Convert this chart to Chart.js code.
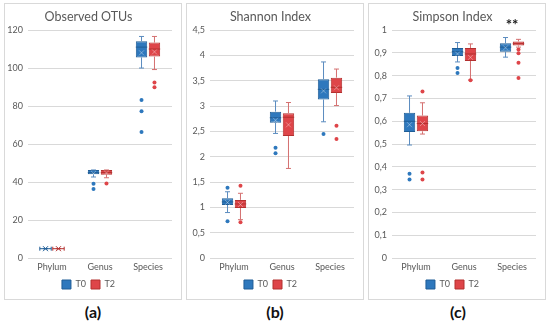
<!DOCTYPE html>
<html>
<head>
<meta charset="utf-8">
<title>Alpha diversity</title>
<script src="https://cdn.jsdelivr.net/npm/chart.js@4.4.1/dist/chart.umd.min.js"></script>
<style>
  body { margin: 0; background: #fff; width: 550px; height: 323px; position: relative; overflow: hidden; }
  .panel { position: absolute; top: 3px; width: 176px; height: 295px; border: 1px solid #d9d9d9; }
  .panel canvas { position: absolute; left: 0; top: 0; }
  .tag { position: absolute; top: 302px; width: 60px; margin-left: -30px; text-align: center;
         font: bold 16px Lato, "Open Sans", sans-serif; color: #111; }
</style>
</head>
<body>
  <div class="panel" style="left:4px"><canvas id="otu" width="176" height="295"></canvas></div>
  <div class="panel" style="left:186px"><canvas id="shannon" width="176" height="295"></canvas></div>
  <div class="panel" style="left:368px"><canvas id="simpson" width="176" height="295"></canvas></div>
  <div class="tag" style="left:93px">(a)</div>
  <div class="tag" style="left:275px">(b)</div>
  <div class="tag" style="left:458px">(c)</div>

<script>
// categories on the x axis
const categories = ['Phylum', 'Genus', 'Species'];

// each box is [min, q1, median, q3, max]
// Observed OTUs
const otuT0 = [[5, 5, 5, 5, 5], [42.7, 44.1, 45, 46.4, 46.4], [100, 105.6, 111, 114.1, 116.6]];
const otuT2 = [[5, 5, 5, 5, 5], [42.3, 43.9, 45, 46.4, 46.4], [99.2, 106, 110, 113.4, 116.6]];
const otuMeanT0 = [5, 44.6, 108];
const otuMeanT2 = [5, 44.8, 108.5];
const otuOutT0 = [[], [39.1, 36.4], [83.2, 77.3, 66.3]];
const otuOutT2 = [[], [39.3], [92.4, 89.9]];

// Shannon index
const shT0 = [[0.90, 1.05, 1.11, 1.18, 1.31], [2.46, 2.67, 2.77, 2.89, 3.10], [2.69, 3.13, 3.33, 3.53, 3.87]];
const shT2 = [[0.76, 0.99, 1.07, 1.15, 1.28], [1.77, 2.41, 2.78, 2.86, 3.07], [3.01, 3.26, 3.37, 3.56, 3.73]];
const shMeanT0 = [1.10, 2.72, 3.30];
const shMeanT2 = [1.06, 2.63, 3.36];
const shOutT0 = [[1.39, 0.73], [2.18, 2.07], [2.45]];
const shOutT2 = [[1.43, 0.71], [], [2.61, 2.35]];

// Simpson index
const siT0 = [[0.496, 0.553, 0.60, 0.637, 0.711], [0.86, 0.886, 0.905, 0.921, 0.945], [0.881, 0.905, 0.925, 0.942, 0.967]];
const siT2 = [[0.544, 0.556, 0.59, 0.625, 0.681], [0.781, 0.864, 0.895, 0.921, 0.939], [0.925, 0.932, 0.94, 0.950, 0.959]];
const siMeanT0 = [0.585, 0.895, 0.922];
const siMeanT2 = [0.59, 0.88, 0.925];
const siOutT0 = [[0.370, 0.345], [0.834, 0.812], []];
const siOutT2 = [[0.730, 0.376, 0.345], [0.78], [0.915, 0.898, 0.856, 0.790]];
const siMarks = ['', '', '**'];

const blue = { fill: '#2e78bd', edge: '#1f5d96', whisk: '#5b8cbf' };
const red  = { fill: '#de4549', edge: '#b3302f', whisk: '#d47070' };
const FONT = 'Lato, "Open Sans", sans-serif';

// whiskers, medians, means and outliers, placed with the chart's own scales
const boxExtras = {
  id: 'boxExtras',
  afterDatasetsDraw(chart, args, opts) {
    const ctx = chart.ctx, ys = chart.scales.y, xs = chart.scales.x;
    ctx.save();
    chart.data.datasets.forEach((ds, di) => {
      const meta = chart.getDatasetMeta(di);
      meta.data.forEach((bar, i) => {
        const s = ds.stats[i];
        const x = bar.x, hw = bar.width / 2;
        const py = v => ys.getPixelForValue(v);
        ctx.lineWidth = 1;
        ctx.strokeStyle = ds.whiskColor;
        ctx.beginPath();
        ctx.moveTo(x, py(s[3])); ctx.lineTo(x, py(s[4]));
        ctx.moveTo(x, py(s[1])); ctx.lineTo(x, py(s[0]));
        ctx.moveTo(x - 2.5, py(s[4])); ctx.lineTo(x + 2.5, py(s[4]));
        ctx.moveTo(x - 2.5, py(s[0])); ctx.lineTo(x + 2.5, py(s[0]));
        ctx.stroke();
        // median
        ctx.strokeStyle = ds.borderColor;
        ctx.beginPath();
        ctx.moveTo(x - hw, py(s[2])); ctx.lineTo(x + hw, py(s[2]));
        if (s[1] === s[3]) {
          ctx.moveTo(x - hw, py(s[2]) - 2); ctx.lineTo(x - hw, py(s[2]) + 2);
          ctx.moveTo(x + hw, py(s[2]) - 2); ctx.lineTo(x + hw, py(s[2]) + 2);
        }
        ctx.stroke();
        // mean cross
        const m = py(ds.means[i]);
        ctx.strokeStyle = s[1] === s[3] ? ds.borderColor : 'rgba(255,255,255,0.35)';
        ctx.beginPath();
        ctx.moveTo(x - 2.5, m - 2.5); ctx.lineTo(x + 2.5, m + 2.5);
        ctx.moveTo(x + 2.5, m - 2.5); ctx.lineTo(x - 2.5, m + 2.5);
        ctx.stroke();
        // outliers
        ctx.fillStyle = ds.backgroundColor;
        ds.outliers[i].forEach(v => {
          ctx.beginPath();
          ctx.arc(x, py(v), 2, 0, Math.PI * 2);
          ctx.fill();
        });
      });
    });
    // significance marks
    if (opts.marks) {
      ctx.fillStyle = '#1a1a1a';
      ctx.font = 'bold 15px ' + FONT;
      ctx.textAlign = 'center';
      ctx.textBaseline = 'middle';
      opts.marks.forEach((t, i) => {
        if (t) ctx.fillText(t, xs.getPixelForValue(i), chart.chartArea.top - 5);
      });
    }
    ctx.restore();
  }
};

function fmt(v) {
  return String(Number(v.toFixed(2))).replace('.', ',');
}

function boxSet(label, stats, means, outliers, col) {
  return {
    label: label,
    data: stats.map(s => [s[1], s[3]]),
    stats: stats, means: means, outliers: outliers,
    backgroundColor: col.fill,
    borderColor: col.edge,
    whiskColor: col.whisk,
    borderWidth: 1,
    borderSkipped: false,
    barPercentage: 0.88,
    categoryPercentage: 0.54
  };
}

function makeChart(id, title, max, step, t0, t2, marks) {
  new Chart(document.getElementById(id), {
    type: 'bar',
    data: { labels: categories, datasets: [t0, t2] },
    plugins: [boxExtras],
    options: {
      responsive: false,
      animation: false,
      devicePixelRatio: 1,
      layout: { padding: { left: 0, right: 9, top: 0, bottom: 0 } },
      plugins: {
        boxExtras: { marks: marks },
        tooltip: { enabled: false },
        title: {
          display: true, text: title, color: '#595959',
          font: { family: FONT, size: 12.5, weight: 'normal' },
          padding: { top: 5, bottom: 6 }
        },
        legend: {
          position: 'bottom',
          labels: {
            boxWidth: 9, boxHeight: 9, color: '#595959',
            font: { family: FONT, size: 9 }, padding: 5
          }
        }
      },
      scales: {
        x: {
          grid: { display: false, drawTicks: false },
          border: { display: false },
          ticks: { color: '#595959', font: { family: FONT, size: 9 }, padding: 3 }
        },
        y: {
          min: 0, max: max,
          afterFit: s => { s.width = 23; },
          grid: { color: '#d9d9d9', drawTicks: false },
          border: { display: false },
          ticks: {
            stepSize: step, color: '#595959', padding: 5,
            font: { family: FONT, size: 9 },
            callback: v => fmt(v)
          }
        }
      }
    }
  });
}

makeChart('otu', 'Observed OTUs', 120, 20,
  boxSet('T0', otuT0, otuMeanT0, otuOutT0, blue),
  boxSet('T2', otuT2, otuMeanT2, otuOutT2, red));
makeChart('shannon', 'Shannon Index', 4.5, 0.5,
  boxSet('T0', shT0, shMeanT0, shOutT0, blue),
  boxSet('T2', shT2, shMeanT2, shOutT2, red));
makeChart('simpson', 'Simpson Index', 1, 0.1,
  boxSet('T0', siT0, siMeanT0, siOutT0, blue),
  boxSet('T2', siT2, siMeanT2, siOutT2, red), siMarks);
</script>
</body>
</html>
